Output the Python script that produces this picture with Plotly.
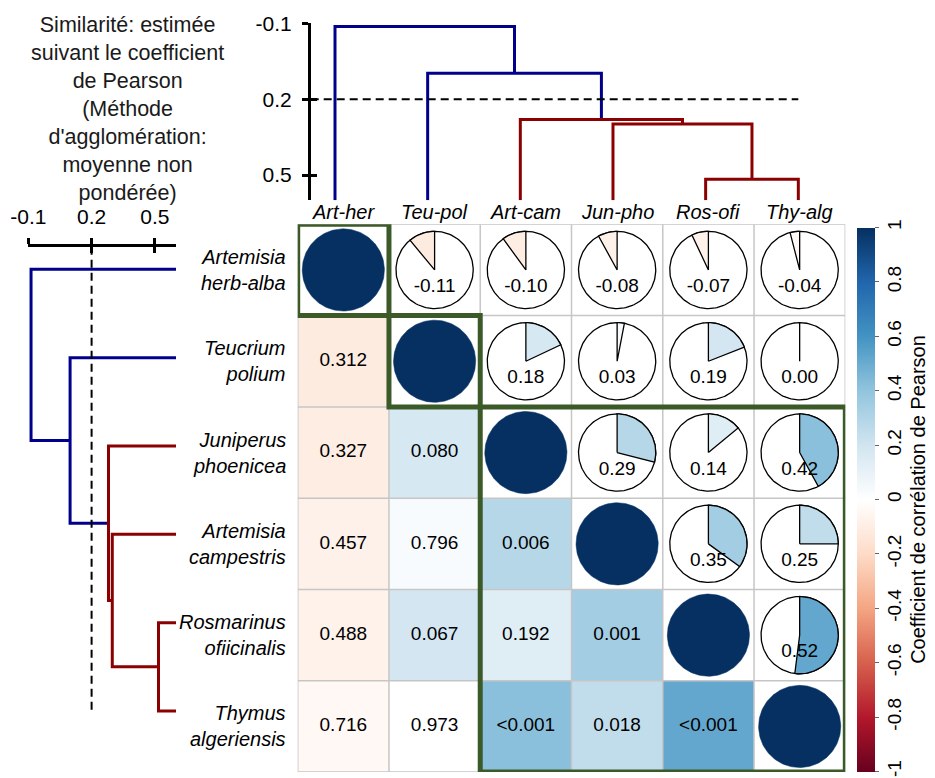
import math
import plotly.graph_objects as go
from plotly.colors import sample_colorscale

# ---------------------------------------------------------------- data
codes = ["Art-her", "Teu-pol", "Art-cam", "Jun-pho", "Ros-ofi", "Thy-alg"]
row_names = ["Artemisia<br>herb-alba", "Teucrium<br>polium", "Juniperus<br>phoenicea",
             "Artemisia<br>campestris", "Rosmarinus<br>ofiicinalis", "Thymus<br>algeriensis"]

corr = [
    [1.00, -0.11, -0.10, -0.08, -0.07, -0.04],
    [-0.11, 1.00, 0.18, 0.03, 0.19, 0.00],
    [-0.10, 0.18, 1.00, 0.29, 0.14, 0.42],
    [-0.08, 0.03, 0.29, 1.00, 0.35, 0.25],
    [-0.07, 0.19, 0.14, 0.35, 1.00, 0.52],
    [-0.04, 0.00, 0.42, 0.25, 0.52, 1.00],
]

# p-values shown in the lower triangle (row by row)
pvalues = [
    [],
    ["0.312"],
    ["0.327", "0.080"],
    ["0.457", "0.796", "0.006"],
    ["0.488", "0.067", "0.192", "0.001"],
    ["0.716", "0.973", "<0.001", "0.018", "<0.001"],
]

# UPGMA linkage on leaf positions: (child a, child b, similarity); ids >= 6 are earlier merges
merge_a = [4, 3, 2, 1, 0]
merge_b = [5, 6, 7, 8, 9]
merge_height = [0.517, 0.298, 0.280, 0.098, -0.087]
cut_level = 0.2
clusters = [1, 1, 4]          # cluster sizes along the matrix order

sim_ticks = [-0.1, 0.2, 0.5]
sim_range = [-0.1, 0.6]
cbar_ticks = [-1, -0.8, -0.6, -0.4, -0.2, 0, 0.2, 0.4, 0.6, 0.8, 1]
cbar_labels = ["-1", "-0.8", "-0.6", "-0.4", "-0.2", "0", "0.2", "0.4", "0.6", "0.8", "1"]

# ---------------------------------------------------------------- styling
W, H = 935, 778
FONT = "Liberation Sans, Arial, sans-serif"
BLUE = "#00008B"
RED = "#8B0000"
GREEN = "#3b5a28"
GRID = "#c6c6c6"
RDBU = ["#67001F", "#B2182B", "#D6604D", "#F4A582", "#FDDBC7", "#FFFFFF",
        "#D1E5F0", "#92C5DE", "#4393C3", "#2166AC", "#053061"]
colorscale = [[k / 10, c] for k, c in enumerate(RDBU)]


def fx(p):
    return p / W


def fy(p):
    return 1 - p / H


def col_of(v):
    return sample_colorscale(colorscale, [(v + 1) / 2])[0]


n = len(codes)
fig = go.Figure()

# ---------------------------------------------------------------- lower triangle heatmap
z = [[corr[i][j] if j < i else None for j in range(n)] for i in range(n)]
fig.add_trace(go.Heatmap(
    z=z, x=list(range(n)), y=list(range(n)), colorscale=colorscale, zmin=-1, zmax=1,
    hoverinfo="skip", showscale=True,
    colorbar=dict(
        x=fx(856.7), xanchor="left", xpad=0, y=fy(499.5), yanchor="middle", ypad=0,
        len=544, lenmode="pixels", thickness=17.6, thicknessmode="pixels",
        outlinewidth=0, tickvals=cbar_ticks, ticktext=cbar_labels,
        ticks="outside", ticklen=4, tickcolor="#666", tickangle=-90,
        tickfont=dict(family=FONT, size=19, color="black"),
        title=dict(text="Coefficient de corrélation de Pearson", side="right",
                   font=dict(family=FONT, size=20, color="black")),
    ),
))

# ---------------------------------------------------------------- pies (upper triangle) and diagonal discs
NPTS = 140
R_PIE = 0.423
R_DIAG = 0.45
for i in range(n):
    for j in range(n):
        if j < i:
            continue
        v = corr[i][j]
        if i == j:
            xs = [j + R_DIAG * math.sin(2 * math.pi * k / NPTS) for k in range(NPTS + 1)]
            ys = [i - R_DIAG * math.cos(2 * math.pi * k / NPTS) for k in range(NPTS + 1)]
            fig.add_trace(go.Scatter(x=xs, y=ys, mode="lines", fill="toself",
                                     fillcolor=col_of(v), line=dict(color=col_of(v), width=0.5),
                                     hoverinfo="skip", showlegend=False))
            continue
        xs = [j + R_PIE * math.sin(2 * math.pi * k / NPTS) for k in range(NPTS + 1)]
        ys = [i - R_PIE * math.cos(2 * math.pi * k / NPTS) for k in range(NPTS + 1)]
        fig.add_trace(go.Scatter(x=xs, y=ys, mode="lines", fill="toself", fillcolor="white",
                                 line=dict(color="black", width=1.3),
                                 hoverinfo="skip", showlegend=False))
        sweep = 2 * math.pi * v
        m = max(2, int(abs(v) * NPTS) + 1)
        wx = [j] + [j + R_PIE * math.sin(sweep * k / (m - 1)) for k in range(m)] + [j]
        wy = [i] + [i - R_PIE * math.cos(sweep * k / (m - 1)) for k in range(m)] + [i]
        fig.add_trace(go.Scatter(x=wx, y=wy, mode="lines", fill="toself", fillcolor=col_of(v),
                                 line=dict(color="black", width=1.3),
                                 hoverinfo="skip", showlegend=False))

# correlation labels inside pies
px_, py_, pt_ = [], [], []
for i in range(n):
    for j in range(i + 1, n):
        px_.append(j)
        py_.append(i + 0.19)
        pt_.append(f"{corr[i][j]:.2f}")
fig.add_trace(go.Scatter(x=px_, y=py_, text=pt_, mode="text", hoverinfo="skip", showlegend=False,
                         textfont=dict(family=FONT, size=19, color="black")))

# p-values in the lower triangle
qx, qy, qt = [], [], []
for i in range(n):
    for j, s in enumerate(pvalues[i]):
        qx.append(j)
        qy.append(i)
        qt.append(s)
fig.add_trace(go.Scatter(x=qx, y=qy, text=qt, mode="text", hoverinfo="skip", showlegend=False,
                         textfont=dict(family=FONT, size=19, color="black")))

# ---------------------------------------------------------------- dendrograms
pos = {k: float(k) for k in range(n)}
hgt = {k: sim_range[1] for k in range(n)}
seg = {BLUE: ([], []), RED: ([], [])}
for k, (a, b, h) in enumerate(zip(merge_a, merge_b, merge_height)):
    nid = n + k
    pos[nid] = (pos[a] + pos[b]) / 2
    hgt[nid] = h
    c = RED if h >= cut_level else BLUE
    P, Hh = seg[c]
    P += [pos[a], pos[a], pos[b], pos[b], None]
    Hh += [hgt[a], h, h, hgt[b], None]

for c, (P, Hh) in seg.items():
    # top dendrogram: leaves along x, similarity downward
    fig.add_trace(go.Scatter(x=P, y=Hh, mode="lines", line=dict(color=c, width=3),
                             xaxis="x2", yaxis="y2", hoverinfo="skip", showlegend=False))
    # left dendrogram: similarity along x, leaves downward
    fig.add_trace(go.Scatter(x=Hh, y=P, mode="lines", line=dict(color=c, width=3),
                             xaxis="x3", yaxis="y3", hoverinfo="skip", showlegend=False))

x2_range = [-0.2622, 5.234]
y3_range = [5.328, -0.2558]
# cut level lines
fig.add_trace(go.Scatter(x=[x2_range[0], n - 1], y=[cut_level, cut_level], mode="lines",
                         line=dict(color="black", width=2, dash="8px,5px"),
                         xaxis="x2", yaxis="y2", hoverinfo="skip", showlegend=False))
fig.add_trace(go.Scatter(x=[cut_level, cut_level], y=[y3_range[1], n - 1], mode="lines",
                         line=dict(color="black", width=2, dash="8px,5px"),
                         xaxis="x3", yaxis="y3", hoverinfo="skip", showlegend=False))
# carriers for the inner tick overlays
fig.add_trace(go.Scatter(x=[None], y=[None], xaxis="x2", yaxis="y5", showlegend=False, hoverinfo="skip"))
fig.add_trace(go.Scatter(x=[None], y=[None], xaxis="x5", yaxis="y3", showlegend=False, hoverinfo="skip"))

# ---------------------------------------------------------------- grid, cluster boxes
shapes = []
for k in range(n + 1):
    shapes.append(dict(type="line", xref="x", yref="y", x0=k - 0.5, x1=k - 0.5, y0=-0.5, y1=n - 0.5,
                       line=dict(color=GRID, width=1.5), layer="above"))
    shapes.append(dict(type="line", xref="x", yref="y", y0=k - 0.5, y1=k - 0.5, x0=-0.5, x1=n - 0.5,
                       line=dict(color=GRID, width=1.5), layer="above"))
start = 0
for size in clusters:
    shapes.append(dict(type="rect", xref="x", yref="y", x0=start - 0.5, x1=start + size - 0.5,
                       y0=start - 0.5, y1=start + size - 0.5,
                       line=dict(color=GREEN, width=5), fillcolor="rgba(0,0,0,0)", layer="above"))
    start += size

# ---------------------------------------------------------------- labels
annotations = []
for j, c in enumerate(codes):
    annotations.append(dict(x=j, y=-0.5, xref="x", yref="y", xanchor="center", yanchor="bottom",
                            yshift=-1, text=f"<i>{c}</i>", showarrow=False,
                            font=dict(family=FONT, size=20, color="black")))
for i, name in enumerate(row_names):
    annotations.append(dict(x=fx(288), y=i, xref="paper", yref="y", xanchor="right",
                            yanchor="middle", align="right", text=f"<i>{name}</i>",
                            showarrow=False, font=dict(family=FONT, size=20, color="black")))
annotations.append(dict(
    x=fx(127), y=fy(108.5), xref="paper", yref="paper", xanchor="center", yanchor="middle",
    align="center", showarrow=False, font=dict(family=FONT, size=21.5, color="#1a1a1a"),
    text="Similarité: estimée<br>suivant le coefficient<br>de Pearson<br>(Méthode<br>"
         "d'agglomération:<br>moyenne non<br>pondérée)"))

hidden = dict(visible=False, showgrid=False, zeroline=False)
sim_axis = dict(showline=True, linewidth=2.5, linecolor="black", ticks="outside", ticklen=6,
                tickwidth=2.5, tickcolor="black", tickvals=sim_ticks,
                ticktext=[f"{t:g}" for t in sim_ticks], showgrid=False, zeroline=False,
                automargin=False, tickfont=dict(family=FONT, size=21, color="black"))
inner_ticks = dict(ticks="inside", ticklen=6, tickwidth=2.5, tickcolor="black",
                   tickvals=sim_ticks, showticklabels=False, showline=False,
                   showgrid=False, zeroline=False, automargin=False)

fig.update_layout(
    width=W, height=H,
    margin=dict(l=0, r=0, t=0, b=0, pad=0, autoexpand=False),
    paper_bgcolor="white", plot_bgcolor="white", showlegend=False,
    xaxis=dict(domain=[fx(297.7), fx(845.3)], range=[-0.5, n - 0.5], **hidden),
    yaxis=dict(domain=[fy(772.1), fy(224.3)], range=[n - 0.5, -0.5], **hidden),
    xaxis2=dict(domain=[fx(310.7), fx(820)], range=x2_range, anchor="y2", **hidden),
    yaxis2=dict(domain=[fy(200.3), fy(23.3)], range=[sim_range[1], sim_range[0]], anchor="x2",
                ticklabelstandoff=6, **sim_axis),
    yaxis5=dict(overlaying="y2", anchor="x2", side="left", range=[sim_range[1], sim_range[0]],
                **inner_ticks),
    xaxis3=dict(domain=[fx(28.3), fx(176)], range=sim_range, anchor="y3", side="top",
                ticklabelstandoff=6, **sim_axis),
    xaxis5=dict(overlaying="x3", anchor="y3", side="top", range=sim_range, **inner_ticks),
    yaxis3=dict(domain=[fy(740), fy(246.7)], range=y3_range, anchor="x3", **hidden),
    shapes=shapes, annotations=annotations,
)

# the page itself should add no offset around the figure
fig.write_html("out.html", post_script="document.body.style.margin='0';"
                                       "document.body.style.overflow='hidden';")
